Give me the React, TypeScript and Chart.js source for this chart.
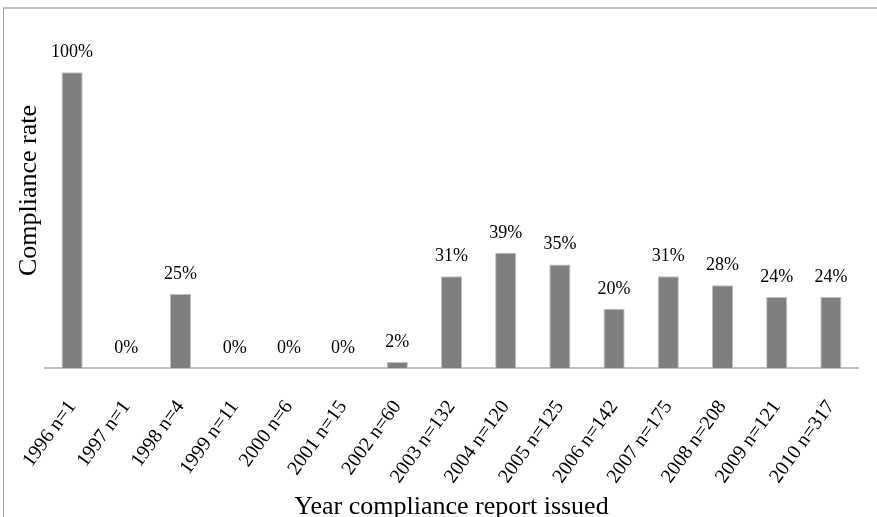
import React, { useEffect, useRef } from "react";
import { Chart, registerables } from "chart.js";

Chart.register(...registerables);

// Compliance rate (%) by year the compliance report was issued, with report counts
const years = ["1996", "1997", "1998", "1999", "2000", "2001", "2002", "2003", "2004", "2005", "2006", "2007", "2008", "2009", "2010"];
const reportCounts = [1, 1, 4, 11, 6, 15, 60, 132, 120, 125, 142, 175, 208, 121, 317];
const complianceRates = [100, 0, 25, 0, 0, 0, 2, 31, 39, 35, 20, 31, 28, 24, 24];
const categoryLabels = years.map((y, i) => `${y} n=${reportCounts[i]}`);

const SERIF = "'Liberation Serif', 'Times New Roman', serif";
const CANVAS_W = 877;
const CANVAS_H = 530;
const AXIS_Y = 368;

// Outer frame of the chart area (top and left edges)
const framePlugin = {
  id: "frame",
  beforeDraw(chart: any) {
    const { ctx, width, height } = chart;
    ctx.save();
    ctx.fillStyle = "#ffffff";
    ctx.fillRect(0, 0, width, height);
    ctx.strokeStyle = "#bfbfbf";
    ctx.lineWidth = 2;
    ctx.beginPath();
    ctx.moveTo(3, 8);
    ctx.lineTo(width, 8);
    ctx.stroke();
    ctx.strokeStyle = "#a6a6a6";
    ctx.lineWidth = 1;
    ctx.beginPath();
    ctx.moveTo(3.5, 8);
    ctx.lineTo(3.5, height);
    ctx.stroke();
    ctx.restore();
  },
};

// Percentage labels above each bar
const valueLabelPlugin = {
  id: "valueLabels",
  afterDatasetsDraw(chart: any) {
    const { ctx } = chart;
    const meta = chart.getDatasetMeta(0);
    const data = chart.data.datasets[0].data as number[];
    ctx.save();
    ctx.font = `18px ${SERIF}`;
    ctx.fillStyle = "#000000";
    ctx.textAlign = "center";
    ctx.textBaseline = "alphabetic";
    meta.data.forEach((bar: any, i: number) => {
      ctx.fillText(`${data[i]}%`, bar.x, bar.y - 15);
    });
    ctx.restore();
  },
};

export default function App() {
  const canvasRef = useRef<HTMLCanvasElement | null>(null);

  useEffect(() => {
    if (!canvasRef.current) return;
    const chart = new Chart(canvasRef.current, {
      type: "bar",
      data: {
        labels: categoryLabels,
        datasets: [
          {
            data: complianceRates,
            backgroundColor: "#7f7f7f",
            borderColor: "#bfbfbf",
            borderWidth: 1,
            categoryPercentage: 1,
            barPercentage: 0.39,
          },
        ],
      },
      options: {
        responsive: false,
        animation: false,
        devicePixelRatio: 1,
        layout: { padding: { left: 0, right: 19, top: 13, bottom: 0 } },
        plugins: {
          legend: { display: false },
          tooltip: { enabled: false },
        },
        scales: {
          x: {
            grid: { display: false },
            border: { display: true, color: "#bfbfbf", width: 2 },
            ticks: {
              autoSkip: false,
              minRotation: 54,
              maxRotation: 54,
              padding: 20,
              color: "#000000",
              font: { family: SERIF, size: 20 },
            },
            title: {
              display: true,
              text: "Year compliance report issued",
              color: "#000000",
              font: { family: SERIF, size: 26 },
              padding: { top: 0, bottom: 7 },
            },
            afterFit(scale: any) {
              scale.height = CANVAS_H - AXIS_Y;
              scale.paddingLeft = 0;
              scale.paddingRight = 0;
            },
          },
          y: {
            min: 0,
            max: 120,
            grid: { display: false },
            border: { display: false },
            ticks: { display: false },
            title: {
              display: true,
              text: "Compliance rate",
              color: "#000000",
              font: { family: SERIF, size: 26 },
              padding: { top: 14, bottom: 0 },
            },
            afterFit(scale: any) {
              scale.width = 45;
            },
          },
        },
      },
      plugins: [framePlugin, valueLabelPlugin],
    });
    return () => chart.destroy();
  }, []);

  return (
    <div
      style={{
        position: "fixed",
        left: 0,
        top: 0,
        width: CANVAS_W,
        height: 517,
        overflow: "hidden",
        background: "#ffffff",
      }}
    >
      <canvas
        ref={canvasRef}
        width={CANVAS_W}
        height={CANVAS_H}
        style={{ display: "block", width: CANVAS_W, height: CANVAS_H }}
      />
    </div>
  );
}
